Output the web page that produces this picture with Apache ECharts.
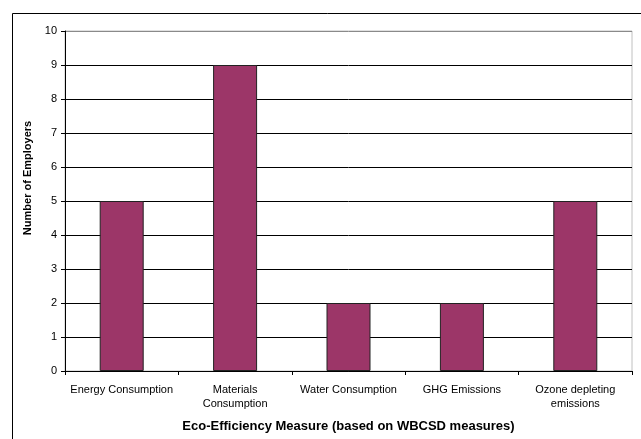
<!DOCTYPE html>
<html><head><meta charset="utf-8">
<script src="https://cdn.jsdelivr.net/npm/echarts@6/dist/echarts.min.js"></script>
<style>html,body{margin:0;padding:0;background:#fff}#c{width:641px;height:439px}</style>
</head><body><div id="c"></div>
<script>
const categories = ['Energy Consumption', 'Materials\nConsumption', 'Water Consumption', 'GHG Emissions', 'Ozone depleting\nemissions'];
const values = [5, 9, 2, 2, 5];
const yTicks = {min: 0, max: 10, interval: 1};
const xTitle = 'Eco-Efficiency Measure (based on WBCSD measures)';
const yTitle = 'Number of Employers';

const chart = echarts.init(document.getElementById('c'), null, {renderer: 'canvas'});
const font = 'Liberation Sans, Arial, sans-serif';
const splitColors = [];
for (let i = 0; i <= 10; i++) splitColors.push(i === 10 ? '#8a8a8a' : '#000');
chart.setOption({
  animation: false,
  backgroundColor: '#fff',
  graphic: [{type: 'rect', left: 10, top: 11, shape: {width: 700, height: 500}, style: {fill: 'none', stroke: '#000', lineWidth: 1}, silent: true, z: -1}],
  grid: {left: 65, top: 31, right: 9, bottom: 68, show: true, borderColor: '#c0c0c0', borderWidth: 1, backgroundColor: 'transparent'},
  xAxis: {
    type: 'category', data: categories,
    axisLine: {lineStyle: {color: '#000', width: 1}},
    axisTick: {show: true, length: 4, lineStyle: {color: '#000'}},
    axisLabel: {color: '#000', fontFamily: font, fontSize: 11, margin: 12, lineHeight: 14, interval: 0},
    name: xTitle, nameLocation: 'middle', nameGap: 49,
    nameTextStyle: {color: '#000', fontFamily: font, fontSize: 13, fontWeight: 'bold'}
  },
  yAxis: {
    type: 'value', min: yTicks.min, max: yTicks.max, interval: yTicks.interval,
    axisLine: {show: true, lineStyle: {color: '#000', width: 1}},
    axisTick: {show: true, length: 4, lineStyle: {color: '#000'}},
    axisLabel: {color: '#000', fontFamily: font, fontSize: 11, margin: 8},
    splitLine: {show: true, lineStyle: {color: splitColors, width: 1}},
    name: yTitle, nameLocation: 'middle', nameGap: 25, nameRotate: 90,
    nameTextStyle: {color: '#000', fontFamily: font, fontSize: 11, fontWeight: 'bold', padding: [0, 0, 0, 46]}
  },
  series: [{
    type: 'bar', data: values, barWidth: 44,
    itemStyle: {color: '#9c3668', borderColor: '#222', borderWidth: 1}
  }]
});
</script></body></html>
